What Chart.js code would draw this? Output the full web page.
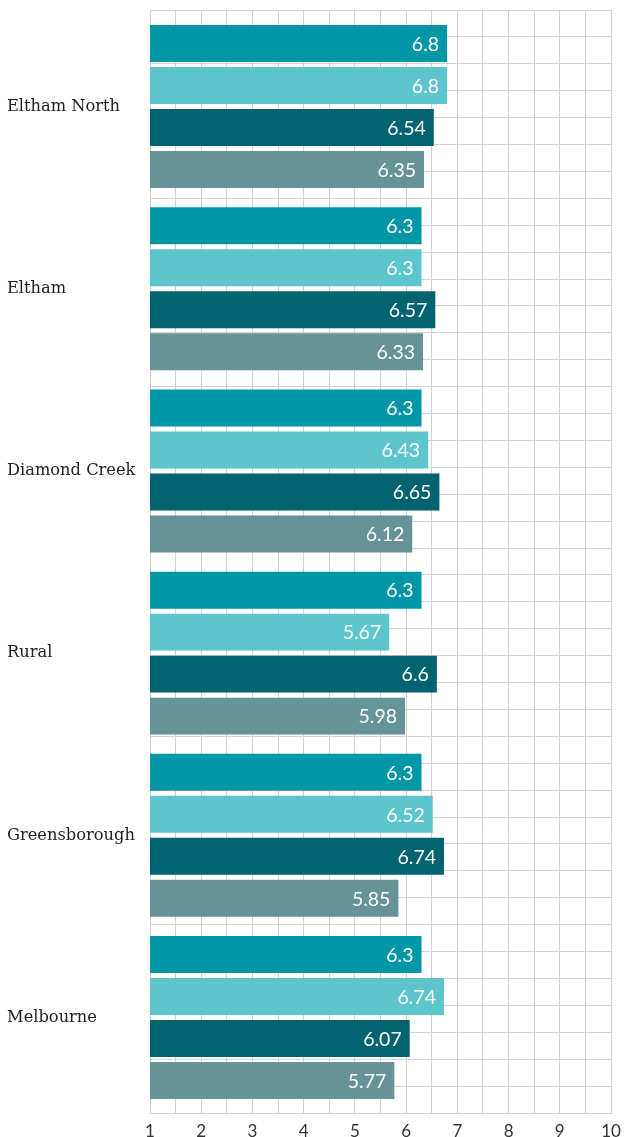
<!DOCTYPE html>
<html>
<head>
<meta charset="utf-8">
<script src="https://cdn.jsdelivr.net/npm/chart.js@4/dist/chart.umd.min.js"></script>
<style>
  html, body { margin: 0; padding: 0; background: #ffffff; }
  #wrap { width: 624px; height: 1137px; }
</style>
</head>
<body>
<div id="wrap"><canvas id="c" width="624" height="1137"></canvas></div>
<script>
const categories = ['Eltham North', 'Eltham', 'Diamond Creek', 'Rural', 'Greensborough', 'Melbourne'];
const series1 = [6.8, 6.3, 6.3, 6.3, 6.3, 6.3];
const series2 = [6.8, 6.3, 6.43, 5.67, 6.52, 6.74];
const series3 = [6.54, 6.57, 6.65, 6.6, 6.74, 6.07];
const series4 = [6.35, 6.33, 6.12, 5.98, 5.85, 5.77];
const xTickLabels = ['1', '2', '3', '4', '5', '6', '7', '8', '9', '10'];
const seriesColors = ['#0096a5', '#5cc6cc', '#00636f', '#669397'];
const seriesNames = ['Series 1', 'Series 2', 'Series 3', 'Series 4'];

const GRID = '#d2d2d2';
const allSeries = [series1, series2, series3, series4];

const datasets = allSeries.map((s, k) => ({
  label: seriesNames[k],
  data: s.map((v, i) => ({ x: v, y: i })),
  backgroundColor: seriesColors[k],
  borderWidth: 0,
  categoryPercentage: 0.922,
  barPercentage: 0.88
}));

const valueLabels = {
  id: 'valueLabels',
  afterDatasetsDraw(chart) {
    const ctx = chart.ctx;
    ctx.save();
    ctx.font = '19.5px Lato';
    ctx.fillStyle = '#ffffff';
    ctx.textAlign = 'right';
    ctx.textBaseline = 'middle';
    chart.data.datasets.forEach((ds, di) => {
      const meta = chart.getDatasetMeta(di);
      meta.data.forEach((bar, i) => {
        const v = ds.data[i].x;
        ctx.fillText(String(v), bar.x - 8, bar.y + 1);
      });
    });
    ctx.restore();
  }
};

new Chart(document.getElementById('c'), {
  type: 'bar',
  data: { datasets },
  options: {
    indexAxis: 'y',
    responsive: false,
    animation: false,
    devicePixelRatio: 1,
    layout: { padding: { left: 7, right: 13, top: 10, bottom: 0 } },
    plugins: { legend: { display: false }, tooltip: { enabled: false } },
    scales: {
      x: {
        type: 'linear',
        position: 'bottom',
        min: 1,
        max: 10,
        offset: false,
        afterFit(scale) { scale.height = 24; scale.paddingRight = 0; scale.paddingLeft = 0; },
        grid: { color: GRID, lineWidth: 1, drawTicks: false, offset: false },
        border: { color: GRID },
        ticks: {
          stepSize: 0.5,
          autoSkip: false,
          maxRotation: 0,
          padding: 8,
          color: '#333333',
          font: { family: 'Lato', size: 17 },
          callback(value) {
            return Number.isInteger(value) ? xTickLabels[value - 1] : '';
          }
        }
      },
      y: {
        type: 'linear',
        position: 'left',
        reverse: true,
        min: -0.53,
        max: 5.524,
        offset: false,
        afterFit(scale) { scale.width = 143; scale.paddingTop = 0; scale.paddingBottom = 0; },
        afterBuildTicks(scale) {
          scale.ticks = scale.ticks.filter(t => Number.isInteger(t.value) && t.value >= 0 && t.value < categories.length);
        },
        grid: { display: false, drawTicks: false, offset: false },
        border: { display: true, color: GRID },
        ticks: {
          stepSize: 1,
          autoSkip: false,
          crossAlign: 'far',
          padding: 0,
          color: '#222222',
          font: { family: 'DejaVu Serif', size: 16.25 },
          callback(value) { return categories[value]; }
        }
      },
      y2: {
        type: 'linear',
        position: 'left',
        min: 0,
        max: 41,
        offset: false,
        afterFit(scale) { scale.width = 0; scale.paddingTop = 0; scale.paddingBottom = 0; },
        grid: { color: GRID, lineWidth: 1, drawTicks: false, offset: false },
        border: { display: false },
        ticks: { display: false, stepSize: 1 }
      }
    }
  },
  plugins: [valueLabels]
});
</script>
</body>
</html>
